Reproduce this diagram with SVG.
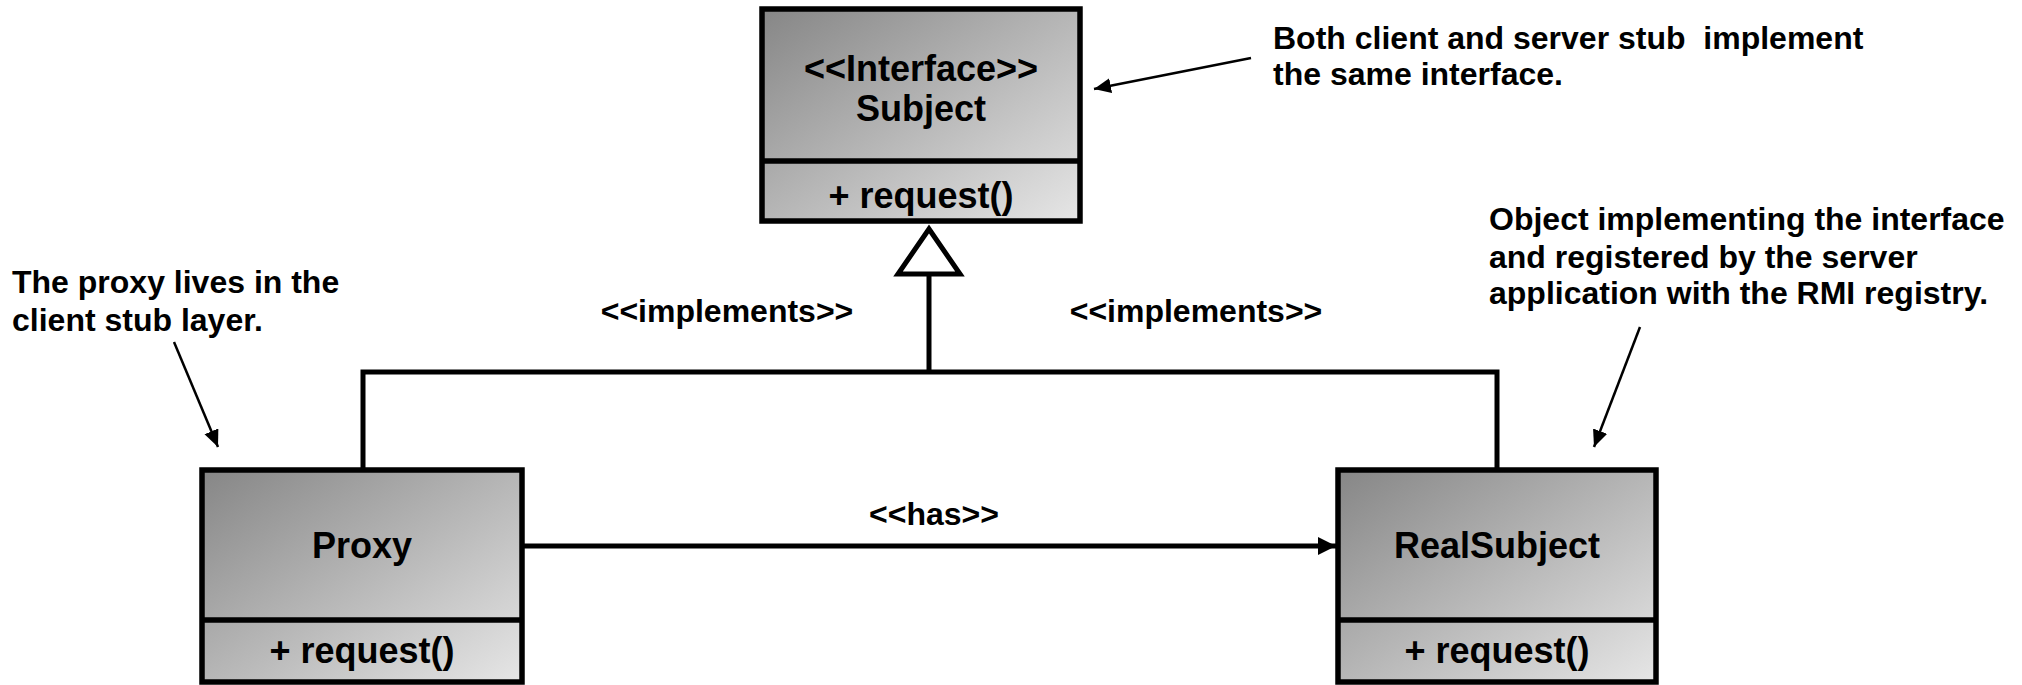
<svg xmlns="http://www.w3.org/2000/svg" width="2022" height="685" viewBox="0 0 2022 685">
<style>
.box{stroke:#000;stroke-width:5.5;fill:url(#g)}
.div{stroke:#000;stroke-width:5.5}
.bt{font-family:"Liberation Sans",Arial,sans-serif;font-weight:bold;font-size:36px;fill:#000;text-anchor:middle}
.lt{font-family:"Liberation Sans",Arial,sans-serif;font-weight:bold;font-size:32px;fill:#000;white-space:pre}
.con{stroke:#000;stroke-width:5;fill:none}
.ann{stroke:#000;stroke-width:2.5;fill:none}
</style>
<defs>
<linearGradient id="g" x1="0" y1="0" x2="1" y2="1">
<stop offset="0" stop-color="#868686"/>
<stop offset="1" stop-color="#e6e6e6"/>
</linearGradient>
<marker id="ah" markerUnits="userSpaceOnUse" markerWidth="18" markerHeight="16" refX="17" refY="7.5" orient="auto">
<path d="M0,0 L17,7.5 L0,15 z" fill="#000"/>
</marker>
<marker id="has" markerUnits="userSpaceOnUse" markerWidth="20" markerHeight="20" refX="18" refY="9" orient="auto">
<path d="M0,0 L18,9 L0,18 z" fill="#000"/>
</marker>
</defs>
<rect width="2022" height="685" fill="#fff"/>

<g id="connectors">
<path class="con" d="M363,470 V372 H1497 V470"/>
<path class="con" d="M929,372 V274"/>
<polygon points="929,229 898,274 960,274" fill="#fff" stroke="#000" stroke-width="5" stroke-linejoin="miter"/>
<path class="con" d="M523,546 H1336" marker-end="url(#has)"/>
<text class="lt" x="727" y="322" text-anchor="middle">&lt;&lt;implements&gt;&gt;</text>
<text class="lt" x="1196" y="322" text-anchor="middle">&lt;&lt;implements&gt;&gt;</text>
<text class="lt" x="934" y="525" text-anchor="middle">&lt;&lt;has&gt;&gt;</text>
</g>

<g id="subject">
<rect class="box" x="762" y="9" width="318" height="212"/>
<line class="div" x1="762" y1="161" x2="1080" y2="161"/>
<text class="bt" x="921" y="81">&lt;&lt;Interface&gt;&gt;</text>
<text class="bt" x="921" y="121">Subject</text>
<text class="bt" x="921" y="208">+ request()</text>
</g>

<g id="proxy">
<rect class="box" x="202" y="470" width="320" height="212"/>
<line class="div" x1="202" y1="620" x2="522" y2="620"/>
<text class="bt" x="362" y="558">Proxy</text>
<text class="bt" x="362" y="663">+ request()</text>
</g>

<g id="realsubject">
<rect class="box" x="1338" y="470" width="318" height="212"/>
<line class="div" x1="1338" y1="620" x2="1656" y2="620"/>
<text class="bt" x="1497" y="558">RealSubject</text>
<text class="bt" x="1497" y="663">+ request()</text>
</g>

<g id="note-interface">
<text class="lt" x="1273" y="49" xml:space="preserve">Both client and server stub  implement</text>
<text class="lt" x="1273" y="85">the same interface.</text>
<path class="ann" d="M1251,58 L1094,89" marker-end="url(#ah)"/>
</g>

<g id="note-proxy">
<text class="lt" x="12" y="293">The proxy lives in the</text>
<text class="lt" x="12" y="331">client stub layer.</text>
<path class="ann" d="M174,342 L218,447" marker-end="url(#ah)"/>
</g>

<g id="note-realsubject">
<text class="lt" x="1489" y="230">Object implementing the interface</text>
<text class="lt" x="1489" y="268">and registered by the server</text>
<text class="lt" x="1489" y="304">application with the RMI registry.</text>
<path class="ann" d="M1640,327 L1594,447" marker-end="url(#ah)"/>
</g>
</svg>
